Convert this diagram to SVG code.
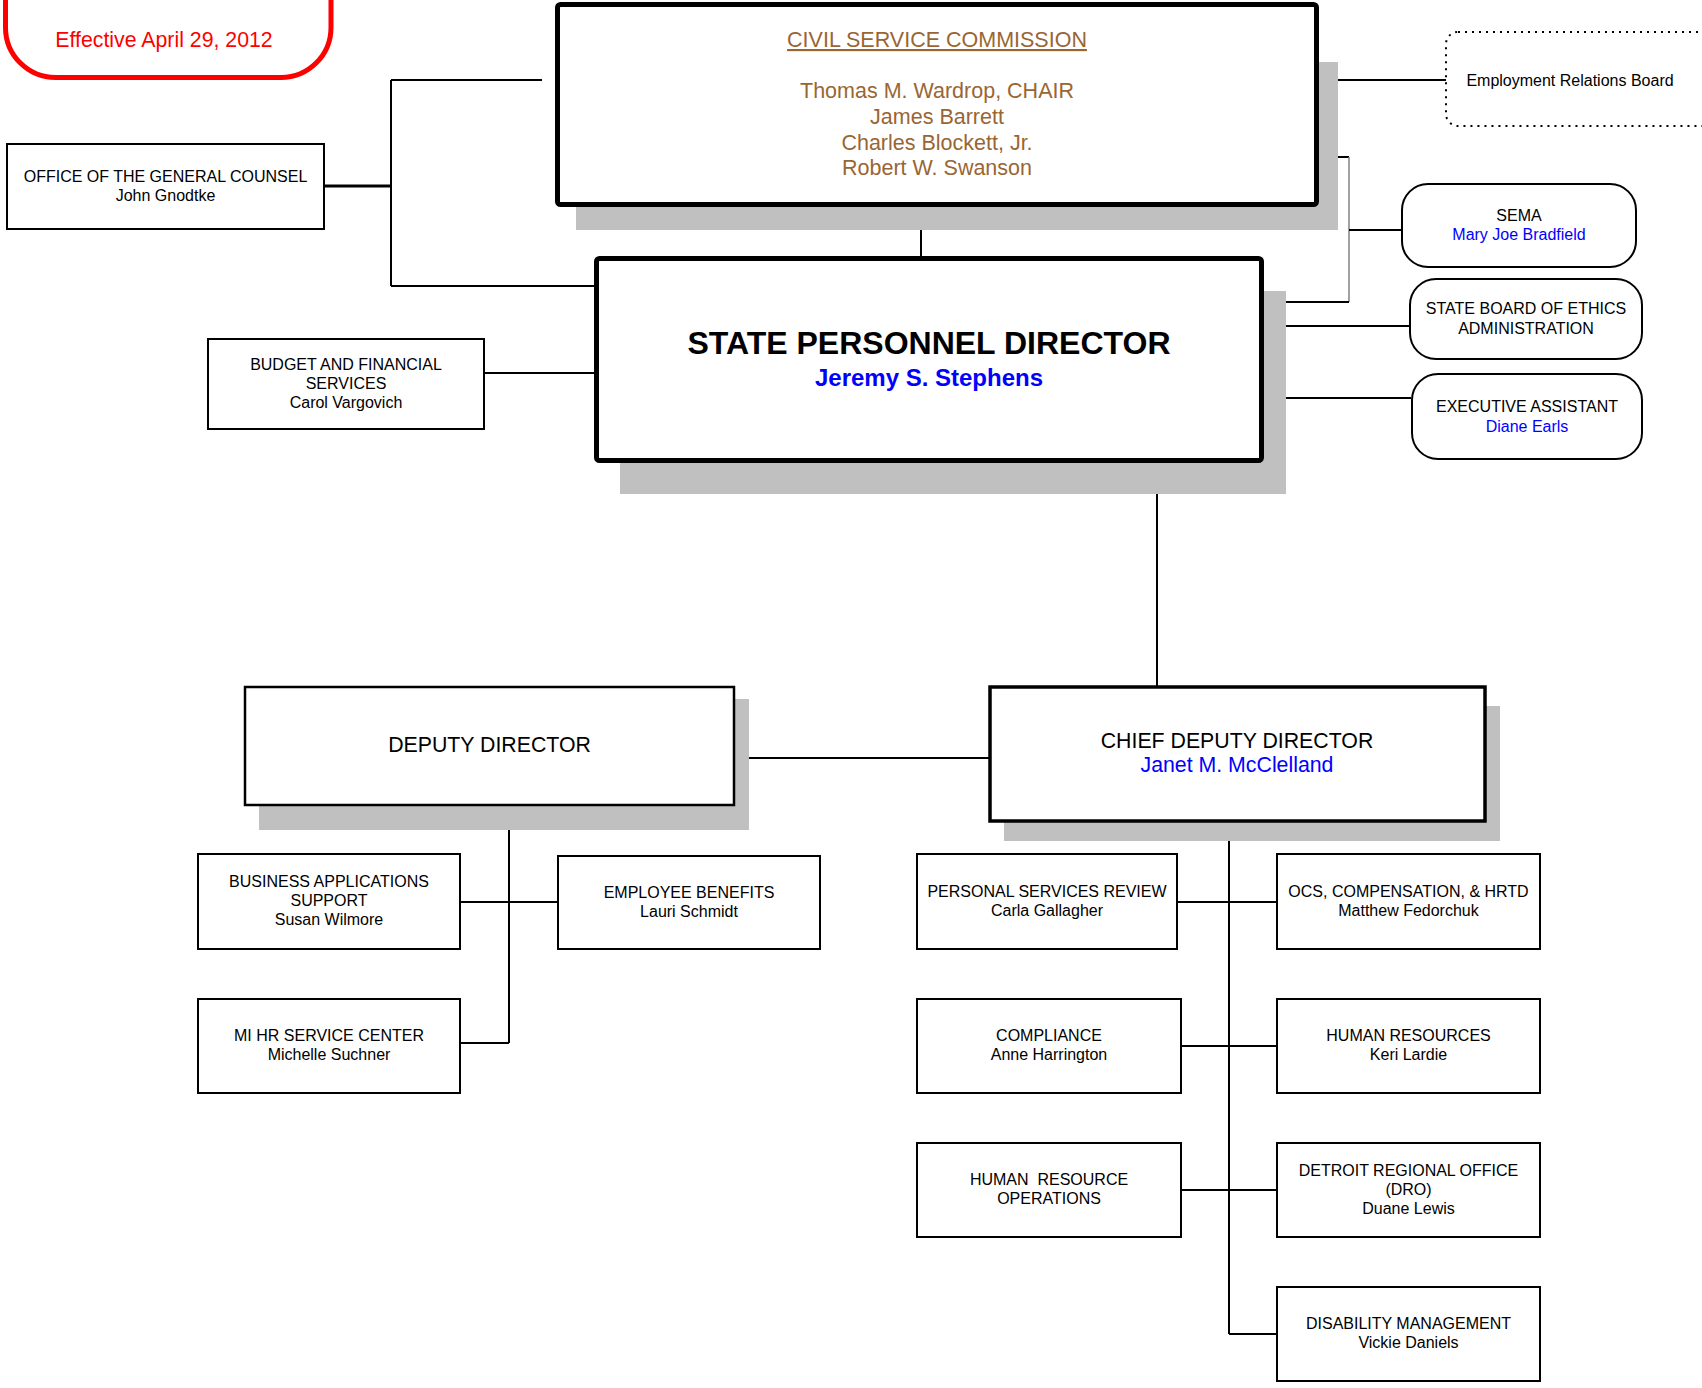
<svg xmlns="http://www.w3.org/2000/svg" width="1702" height="1388" viewBox="0 0 1702 1388">
<style>
.bg{fill:#fff}
.box{fill:#fff;stroke:#000;stroke-width:2}
.thick{stroke-width:5}
.shadow{fill:#c0c0c0}
.rnd{fill:#fff;stroke:#000;stroke-width:2}
text{font-family:"Liberation Sans",Arial,sans-serif;font-size:16px;text-anchor:middle;fill:#000}
.blue{fill:#0000ff}
.brown{fill:#996633;font-size:21.5px}
.big{font-size:21.3px}
#connectors line{stroke:#000;stroke-width:2;fill:none}
#connectors line.gray{stroke:#808080;stroke-width:1.5}
</style>
<rect class="bg" x="0" y="0" width="1702" height="1388"/>
<g id="connectors">
<line x1="325" y1="186" x2="391" y2="186" style="stroke-width:3"/>
<line x1="391" y1="80" x2="391" y2="286"/>
<line x1="391" y1="80" x2="542" y2="80"/>
<line x1="391" y1="286" x2="594" y2="286"/>
<line x1="485" y1="373" x2="594" y2="373"/>
<line x1="921" y1="207" x2="921" y2="256"/>
<line x1="1319" y1="80" x2="1446" y2="80"/>
<line x1="1319" y1="157" x2="1349" y2="157"/>
<line class="gray" x1="1349" y1="157" x2="1349" y2="302"/>
<line x1="1264" y1="302" x2="1349" y2="302"/>
<line x1="1349" y1="230" x2="1401" y2="230"/>
<line x1="1264" y1="326" x2="1409" y2="326"/>
<line x1="1264" y1="398" x2="1411" y2="398"/>
<line x1="1157" y1="461" x2="1157" y2="686"/>
<line x1="735" y1="758" x2="989" y2="758"/>
<line x1="509" y1="806" x2="509" y2="1043"/>
<line x1="461" y1="902" x2="557" y2="902"/>
<line x1="461" y1="1043" x2="509" y2="1043"/>
<line x1="1229" y1="822" x2="1229" y2="1334"/>
<line x1="1178" y1="902" x2="1276" y2="902"/>
<line x1="1182" y1="1046" x2="1276" y2="1046"/>
<line x1="1182" y1="1190" x2="1276" y2="1190"/>
<line x1="1229" y1="1334" x2="1276" y2="1334"/>
</g>
<g id="effective">
<rect x="5.5" y="-60" width="325.5" height="137.5" rx="50" fill="#fff" stroke="#ff0000" stroke-width="5"/>
<text x="164" y="47" style="font-size:21.3px;fill:#ff0000">Effective April 29, 2012</text>
</g>
<g id="general-counsel">
<rect class="box" x="7" y="144" width="317" height="85"/>
<text x="165.5" y="182">OFFICE OF THE GENERAL COUNSEL</text>
<text x="165.5" y="201">John Gnodtke</text>
</g>
<g id="civil-service-commission">
<rect class="shadow" x="576" y="62" width="762" height="168"/>
<rect class="box thick" x="557.5" y="4.5" width="759" height="200" rx="3"/>
<text class="brown" x="937" y="47" text-decoration="underline">CIVIL SERVICE COMMISSION</text>
<text class="brown" x="937" y="98">Thomas M. Wardrop, CHAIR</text>
<text class="brown" x="937" y="124">James Barrett</text>
<text class="brown" x="937" y="150">Charles Blockett, Jr.</text>
<text class="brown" x="937" y="175">Robert W. Swanson</text>
</g>
<g id="employment-relations-board">
<rect x="1446" y="32" width="275" height="94" rx="12" fill="#fff" stroke="#000" stroke-width="2" stroke-dasharray="2 5"/>
<text x="1570" y="86">Employment Relations Board</text>
</g>
<g id="state-personnel-director">
<rect class="shadow" x="620" y="291" width="666" height="203"/>
<rect class="box thick" x="596.5" y="258.5" width="665" height="202" rx="3"/>
<text x="929" y="354" style="font-size:32px;font-weight:bold">STATE PERSONNEL DIRECTOR</text>
<text class="blue" x="929" y="386" style="font-size:24px;font-weight:bold">Jeremy S. Stephens</text>
</g>
<g id="budget">
<rect class="box" x="208" y="339" width="276" height="90"/>
<text x="346" y="370">BUDGET AND FINANCIAL</text>
<text x="346" y="389">SERVICES</text>
<text x="346" y="408">Carol Vargovich</text>
</g>
<g id="sema">
<rect class="rnd" x="1402" y="184" width="234" height="83" rx="26"/>
<text x="1519" y="221">SEMA</text>
<text class="blue" x="1519" y="240">Mary Joe Bradfield</text>
</g>
<g id="ethics">
<rect class="rnd" x="1410" y="279" width="232" height="80" rx="26"/>
<text x="1526" y="314">STATE BOARD OF ETHICS</text>
<text x="1526" y="334">ADMINISTRATION</text>
</g>
<g id="executive-assistant">
<rect class="rnd" x="1412" y="374" width="230" height="85" rx="26"/>
<text x="1527" y="412">EXECUTIVE ASSISTANT</text>
<text class="blue" x="1527" y="432">Diane Earls</text>
</g>
<g id="deputy-director">
<rect class="shadow" x="259" y="699" width="490" height="131"/>
<rect class="box" x="245" y="687" width="489" height="118" style="stroke-width:2.5"/>
<text class="big" x="489.5" y="752">DEPUTY DIRECTOR</text>
</g>
<g id="chief-deputy-director">
<rect class="shadow" x="1004" y="706" width="496" height="135"/>
<rect class="box" x="990" y="687" width="495" height="134" style="stroke-width:3.5"/>
<text class="big" x="1237" y="748">CHIEF DEPUTY DIRECTOR</text>
<text class="big blue" x="1237" y="772">Janet M. McClelland</text>
</g>
<g id="business-applications">
<rect class="box" x="198" y="854" width="262" height="95"/>
<text x="329" y="887">BUSINESS APPLICATIONS</text>
<text x="329" y="906">SUPPORT</text>
<text x="329" y="925">Susan Wilmore</text>
</g>
<g id="employee-benefits">
<rect class="box" x="558" y="856" width="262" height="93"/>
<text x="689" y="898">EMPLOYEE BENEFITS</text>
<text x="689" y="917">Lauri Schmidt</text>
</g>
<g id="mi-hr-service-center">
<rect class="box" x="198" y="999" width="262" height="94"/>
<text x="329" y="1041">MI HR SERVICE CENTER</text>
<text x="329" y="1060">Michelle Suchner</text>
</g>
<g id="personal-services-review">
<rect class="box" x="917" y="854" width="260" height="95"/>
<text x="1047" y="897">PERSONAL SERVICES REVIEW</text>
<text x="1047" y="916">Carla Gallagher</text>
</g>
<g id="ocs-compensation">
<rect class="box" x="1277" y="854" width="263" height="95"/>
<text x="1408.5" y="897">OCS, COMPENSATION, &amp; HRTD</text>
<text x="1408.5" y="916">Matthew Fedorchuk</text>
</g>
<g id="compliance">
<rect class="box" x="917" y="999" width="264" height="94"/>
<text x="1049" y="1041">COMPLIANCE</text>
<text x="1049" y="1060">Anne Harrington</text>
</g>
<g id="human-resources">
<rect class="box" x="1277" y="999" width="263" height="94"/>
<text x="1408.5" y="1041">HUMAN RESOURCES</text>
<text x="1408.5" y="1060">Keri Lardie</text>
</g>
<g id="human-resource-operations">
<rect class="box" x="917" y="1143" width="264" height="94"/>
<text x="1049" y="1185" xml:space="preserve">HUMAN  RESOURCE</text>
<text x="1049" y="1204">OPERATIONS</text>
</g>
<g id="detroit-regional-office">
<rect class="box" x="1277" y="1143" width="263" height="94"/>
<text x="1408.5" y="1176">DETROIT REGIONAL OFFICE</text>
<text x="1408.5" y="1195">(DRO)</text>
<text x="1408.5" y="1214">Duane Lewis</text>
</g>
<g id="disability-management">
<rect class="box" x="1277" y="1287" width="263" height="94"/>
<text x="1408.5" y="1329">DISABILITY MANAGEMENT</text>
<text x="1408.5" y="1348">Vickie Daniels</text>
</g>
</svg>
